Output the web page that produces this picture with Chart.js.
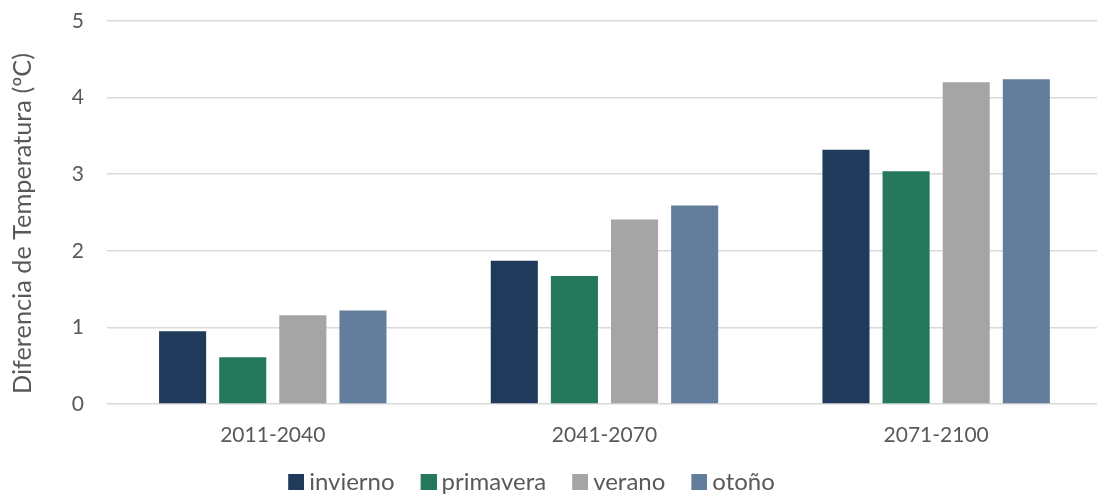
<!DOCTYPE html>
<html>
<head>
<meta charset="utf-8">
<script src="https://cdn.jsdelivr.net/npm/chart.js@4"></script>
<style>
  html, body { margin: 0; padding: 0; background: #ffffff; }
  #wrap { width: 1097px; height: 496px; }
</style>
</head>
<body>
<div id="wrap"><canvas id="c" width="1097" height="496"></canvas></div>
<script>
const categories = ['2011-2040', '2041-2070', '2071-2100'];
const seriesNames = ['invierno', 'primavera', 'verano', 'otoño'];
const invierno = [0.95, 1.87, 3.32];
const primavera = [0.61, 1.67, 3.04];
const verano = [1.16, 2.41, 4.20];
const otono = [1.22, 2.59, 4.24];
const yTicks = [0, 1, 2, 3, 4, 5];
const colors = ['#1F3A5A', '#25785C', '#A5A5A5', '#637E9D'];
const yTitle = 'Diferencia de Temperatura (ºC)';

const TEXT = '#595959';
const FONT = 'Lato, "Open Sans", sans-serif';

// legend marker: square on the right side of a wider transparent canvas
function marker(color) {
  const cv = document.createElement('canvas');
  cv.width = 41; cv.height = 16;
  const g = cv.getContext('2d');
  g.fillStyle = color;
  g.fillRect(25, 0, 16, 16);
  return cv;
}
const markers = colors.map(marker);

const values = [invierno, primavera, verano, otono];
const datasets = seriesNames.map((name, i) => ({
  label: name,
  data: values[i],
  backgroundColor: colors[i],
  borderWidth: 0,
  categoryPercentage: 0.725,
  barPercentage: 0.783,
  pointStyle: markers[i]
}));

const tweaks = {
  id: 'tweaks',
  afterLayout(chart) {
    // legend offset
    const l = chart.legend;
    const dx = -26, dy = 8;
    l.left += dx; l.right += dx; l.top += dy; l.bottom += dy;
    // plot area runs slightly past the right edge, as in the reference
    const x = chart.scales.x;
    const ext = 5;
    x.right += ext; x.width += ext; x.configure();
    chart.chartArea.right += ext; chart.chartArea.width += ext;
    // y title offset (centred a little lower)
    const s = chart.scales.y;
    if (!s._titleShifted) {
      const orig = s.drawTitle;
      s.drawTitle = function () {
        const ctx = this.ctx;
        ctx.save(); ctx.translate(0, 11); orig.call(this); ctx.restore();
      };
      s._titleShifted = true;
    }
  }
};

new Chart(document.getElementById('c'), {
  type: 'bar',
  data: { labels: categories, datasets },
  plugins: [tweaks],
  options: {
    responsive: false,
    animation: false,
    layout: { padding: { top: 21, right: 0, left: 0, bottom: 0 } },
    plugins: {
      tooltip: { enabled: false },
      legend: {
        position: 'bottom',
        labels: {
          usePointStyle: true,
          pointStyleWidth: 27,
          padding: 8,
          color: TEXT,
          font: { family: FONT, size: 24 }
        }
      }
    },
    scales: {
      x: {
        grid: { display: false, drawTicks: false },
        border: { display: false },
        ticks: { color: TEXT, font: { family: FONT, size: 21 }, padding: 19 },
        afterFit: (s) => { s.height = 50; }
      },
      y: {
        min: 0, max: 5,
        afterBuildTicks: (s) => { s.ticks = yTicks.map(v => ({ value: v })); },
        afterFit: (s) => { s.paddingTop = 0; s.paddingBottom = 0; },
        grid: { color: '#D9D9D9', lineWidth: 1.5, drawTicks: false },
        border: { display: false },
        ticks: { color: TEXT, font: { family: FONT, size: 21 }, padding: 23 },
        title: {
          display: true,
          text: yTitle,
          color: TEXT,
          font: { family: FONT, size: 25.3 },
          padding: { top: 7.3, bottom: 11.1 }
        }
      }
    }
  }
});
</script>
</body>
</html>
